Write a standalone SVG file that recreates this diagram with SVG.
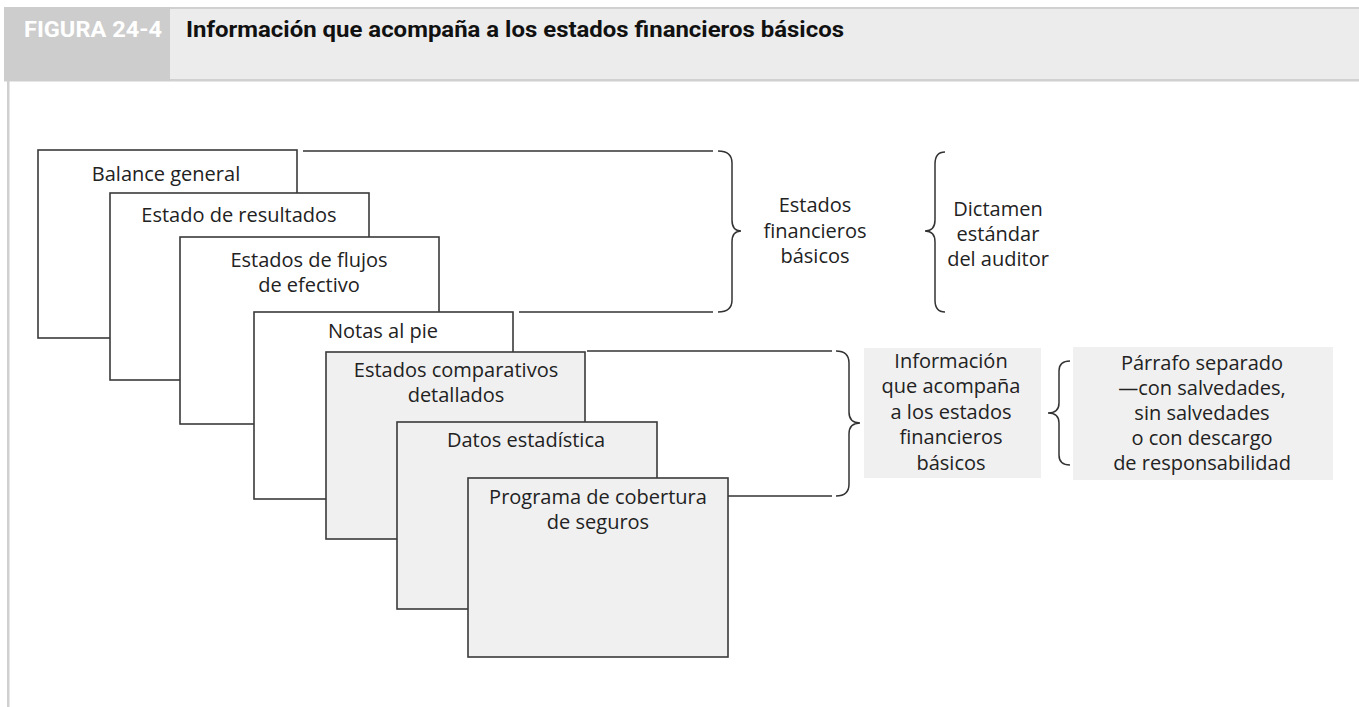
<svg xmlns="http://www.w3.org/2000/svg" width="1359" height="707" viewBox="0 0 1359 707">
<style>
.box{stroke:#3a3a3a;stroke-width:1.6;fill:#fff}
.gbox{stroke:#3a3a3a;stroke-width:1.6;fill:#f0f0f0}
.t{font-family:"Open Sans","Noto Sans",sans-serif;font-size:20px;fill:#222;text-anchor:middle}
.ln{stroke:#333;stroke-width:1.5;fill:none}
</style>
<rect width="1359" height="707" fill="#fff"/>
<g id="header">
<rect x="4" y="7" width="1355" height="74" fill="#ececec"/>
<rect x="4" y="7" width="1355" height="2" fill="#d0d0d0"/>
<rect x="4" y="79" width="1355" height="2.5" fill="#d0d0d0"/>
<rect x="4" y="7" width="166" height="74" fill="#cdcdcd"/>
<text x="24" y="37" font-family="Roboto,'Liberation Sans',sans-serif" font-weight="bold" font-size="22" fill="#fff" textLength="138" lengthAdjust="spacingAndGlyphs">FIGURA 24-4</text>
<text x="186" y="37" font-family="Roboto,'Liberation Sans',sans-serif" font-weight="bold" font-size="22" fill="#111" textLength="658" lengthAdjust="spacingAndGlyphs">Información que acompaña a los estados financieros básicos</text>
<rect x="7" y="81" width="2.5" height="626" fill="#d0d0d0"/>
</g>
<g id="connectors">
<path class="ln" d="M303 151H713"/>
<path class="ln" d="M519 312H713"/>
<path class="ln" d="M718 151Q732 151 732 163V220Q732 231 741 231Q732 231 732 242V300Q732 312 718 312"/>
<path class="ln" d="M945 152Q935 152 935 164V220Q935 231 925 231Q935 231 935 242V300Q935 312 945 312"/>
<path class="ln" d="M587 351H832"/>
<path class="ln" d="M657 496H832"/>
<path class="ln" d="M836 351Q849 351 849 363V412Q849 423 860 423Q849 423 849 434V484Q849 496 836 496"/>
<path class="ln" d="M1070 361Q1059 361 1059 371V403Q1059 413 1048 413Q1059 413 1059 423V455Q1059 465 1070 465"/>
</g>
<g id="n1"><rect class="box" x="38" y="150" width="259" height="188"/><text class="t" x="166" y="181">Balance general</text></g>
<g id="n2"><rect class="box" x="110" y="193" width="259" height="187"/><text class="t" x="239" y="222">Estado de resultados</text></g>
<g id="n3"><rect class="box" x="180" y="237" width="259" height="187"/><text class="t" x="309" y="267">Estados de flujos</text><text class="t" x="309" y="292">de efectivo</text></g>
<g id="n4"><rect class="box" x="254" y="312" width="259" height="187"/><text class="t" x="383" y="338">Notas al pie</text></g>
<g id="n5"><rect class="gbox" x="326" y="352" width="259" height="187"/><text class="t" x="456" y="377">Estados comparativos</text><text class="t" x="456" y="402">detallados</text></g>
<g id="n6"><rect class="gbox" x="397" y="422" width="260" height="187"/><text class="t" x="526" y="447">Datos estadística</text></g>
<g id="n7"><rect class="gbox" x="468" y="478" width="260" height="179"/><text class="t" x="598" y="504">Programa de cobertura</text><text class="t" x="598" y="529">de seguros</text></g>
<g id="estados"><text class="t" x="815" y="212">Estados</text><text class="t" x="815" y="238">financieros</text><text class="t" x="815" y="263">básicos</text></g>
<g id="dictamen"><text class="t" x="998" y="216">Dictamen</text><text class="t" x="998" y="241">estándar</text><text class="t" x="998" y="266">del auditor</text></g>
<g id="info"><rect x="864" y="348" width="177" height="130" fill="#f0f0f0"/>
<text class="t" x="951" y="368">Información</text><text class="t" x="951" y="393">que acompaña</text><text class="t" x="951" y="419">a los estados</text><text class="t" x="951" y="444">financieros</text><text class="t" x="951" y="470">básicos</text></g>
<g id="parrafo"><rect x="1073" y="347" width="260" height="133" fill="#f0f0f0"/>
<text class="t" x="1202" y="370">Párrafo separado</text><text class="t" x="1202" y="395">—con salvedades,</text><text class="t" x="1202" y="420">sin salvedades</text><text class="t" x="1202" y="445">o con descargo</text><text class="t" x="1202" y="470">de responsabilidad</text></g>
</svg>
